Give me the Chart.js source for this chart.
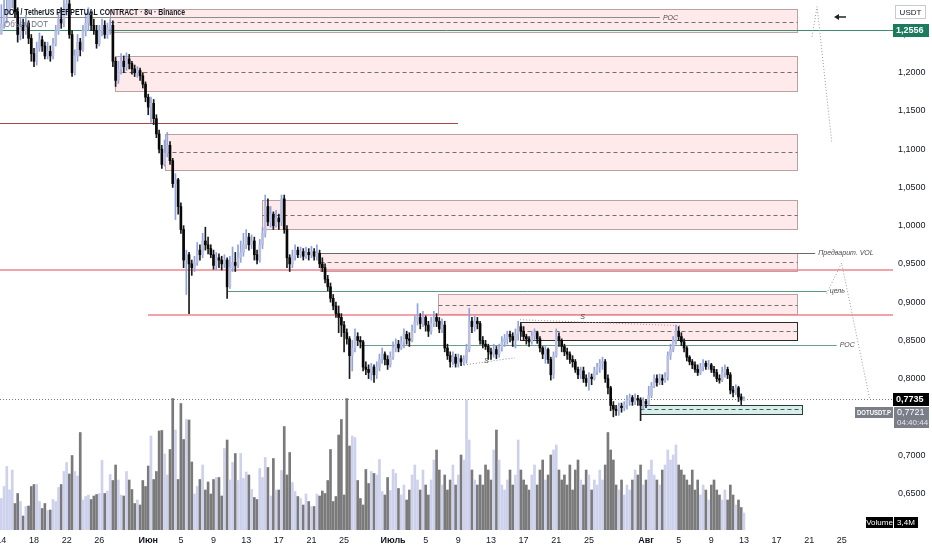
<!DOCTYPE html>
<html><head><meta charset="utf-8">
<script src="https://cdn.jsdelivr.net/npm/chart.js@4.4.0/dist/chart.umd.min.js"></script>
<style>html,body{margin:0;padding:0;background:#fff;overflow:hidden}canvas{display:block}</style>
</head><body>
<canvas id="c" width="932" height="550"></canvas>
<script>
// ---------- DATA (8h candles, DOT/USDT perpetual, Binance) ----------
const firstOpen = 1.250;
const closes = [
1.263,1.276,1.282,1.295,1.300,1.280,1.250,1.262,1.255,1.265,
1.245,1.225,1.215,1.232,1.243,1.235,1.222,1.228,1.222,1.238,
1.255,1.270,1.265,1.280,1.290,1.250,1.200,1.222,1.240,1.230,
1.255,1.265,1.275,1.262,1.255,1.238,1.255,1.262,1.250,1.258,
1.262,1.215,1.190,1.205,1.215,1.208,1.218,1.212,1.205,1.200,
1.203,1.196,1.185,1.168,1.155,1.160,1.140,1.120,1.100,1.080,
1.095,1.105,1.085,1.055,1.060,1.025,0.995,0.955,0.962,0.950,
0.945,0.952,0.968,0.962,0.980,0.975,0.970,0.962,0.948,0.958,
0.955,0.950,0.955,0.920,0.945,0.952,0.948,0.958,0.965,0.975,
0.985,0.975,0.980,0.962,0.955,0.975,0.990,1.025,1.005,1.015,
1.000,1.010,1.005,1.035,0.995,0.958,0.950,0.960,0.968,0.962,
0.966,0.960,0.965,0.962,0.966,0.960,0.964,0.950,0.945,0.930,
0.920,0.905,0.895,0.885,0.880,0.870,0.860,0.852,0.830,0.840,
0.855,0.850,0.848,0.815,0.812,0.808,0.815,0.805,0.815,0.825,
0.832,0.825,0.818,0.828,0.840,0.845,0.840,0.848,0.858,0.852,
0.850,0.862,0.875,0.880,0.872,0.880,0.870,0.862,0.872,0.880,
0.875,0.865,0.870,0.840,0.830,0.822,0.828,0.820,0.826,0.822,
0.825,0.838,0.875,0.868,0.875,0.872,0.850,0.845,0.842,0.835,
0.832,0.838,0.832,0.840,0.848,0.852,0.858,0.855,0.850,0.858,
0.868,0.862,0.855,0.852,0.848,0.856,0.860,0.852,0.840,0.832,
0.838,0.825,0.805,0.830,0.855,0.850,0.842,0.835,0.832,0.825,
0.822,0.812,0.805,0.810,0.800,0.795,0.802,0.800,0.810,0.815,
0.820,0.822,0.800,0.788,0.765,0.760,0.758,0.764,0.762,0.766,
0.772,0.775,0.770,0.774,0.772,0.765,0.770,0.767,0.778,0.790,
0.800,0.795,0.800,0.798,0.802,0.830,0.838,0.850,0.862,0.855,
0.848,0.840,0.828,0.822,0.818,0.812,0.808,0.815,0.820,0.816,
0.818,0.812,0.808,0.800,0.798,0.808,0.812,0.805,0.785,0.782,
0.788,0.776,0.772,0.7735];
const highs = [
1.289,1.295,1.300,1.310,1.315,1.310,1.285,1.272,1.270,1.275,
1.268,1.250,1.232,1.240,1.252,1.248,1.240,1.240,1.235,1.245,
1.262,1.278,1.285,1.295,1.310,1.300,1.255,1.230,1.250,1.245,
1.262,1.278,1.285,1.280,1.270,1.262,1.262,1.270,1.268,1.265,
1.270,1.268,1.220,1.215,1.225,1.222,1.226,1.224,1.215,1.210,
1.208,1.206,1.200,1.188,1.172,1.168,1.165,1.145,1.125,1.105,
1.112,1.122,1.110,1.088,1.068,1.062,1.030,1.000,0.968,0.965,
0.955,0.960,0.978,0.975,0.990,0.998,0.985,0.975,0.968,0.965,
0.963,0.960,0.962,0.958,0.960,0.972,0.965,0.975,0.980,0.990,
0.995,0.990,0.988,0.985,0.968,0.982,0.998,1.040,1.035,1.025,
1.018,1.020,1.015,1.040,1.040,1.000,0.962,0.968,0.975,0.972,
0.972,0.970,0.972,0.970,0.973,0.970,0.975,0.968,0.958,0.950,
0.935,0.925,0.910,0.900,0.895,0.885,0.875,0.865,0.855,0.850,
0.865,0.860,0.855,0.850,0.822,0.818,0.820,0.818,0.822,0.832,
0.840,0.835,0.830,0.835,0.848,0.852,0.850,0.855,0.865,0.862,
0.860,0.870,0.882,0.898,0.885,0.888,0.882,0.875,0.880,0.888,
0.885,0.880,0.878,0.875,0.845,0.835,0.835,0.832,0.832,0.830,
0.830,0.845,0.892,0.880,0.882,0.880,0.875,0.855,0.850,0.845,
0.840,0.845,0.842,0.845,0.855,0.858,0.862,0.862,0.860,0.865,
0.875,0.872,0.868,0.858,0.855,0.862,0.865,0.862,0.855,0.842,
0.842,0.840,0.828,0.835,0.865,0.860,0.852,0.845,0.840,0.835,
0.830,0.825,0.815,0.815,0.815,0.805,0.808,0.806,0.815,0.820,
0.825,0.828,0.825,0.805,0.790,0.770,0.765,0.768,0.768,0.770,
0.778,0.780,0.778,0.780,0.778,0.775,0.775,0.773,0.790,0.795,
0.805,0.805,0.806,0.805,0.808,0.835,0.845,0.855,0.870,0.868,
0.860,0.852,0.842,0.830,0.825,0.822,0.818,0.820,0.825,0.823,
0.824,0.820,0.816,0.812,0.805,0.815,0.818,0.815,0.808,0.790,
0.792,0.790,0.780,0.776];
const lows = [
1.256,1.258,1.265,1.276,1.285,1.272,1.240,1.243,1.245,1.250,
1.238,1.215,1.208,1.210,1.228,1.228,1.218,1.218,1.215,1.218,
1.235,1.250,1.258,1.260,1.275,1.245,1.195,1.197,1.215,1.222,
1.228,1.248,1.255,1.255,1.250,1.232,1.235,1.248,1.245,1.245,
1.250,1.208,1.182,1.186,1.198,1.200,1.203,1.205,1.198,1.195,
1.194,1.190,1.180,1.162,1.145,1.135,1.132,1.115,1.095,1.075,
1.078,1.090,1.080,1.050,1.008,1.015,0.990,0.945,0.910,0.885,
0.935,0.940,0.948,0.955,0.958,0.968,0.963,0.958,0.943,0.942,
0.945,0.942,0.945,0.905,0.918,0.940,0.940,0.945,0.952,0.960,
0.970,0.968,0.970,0.955,0.950,0.952,0.970,0.985,1.000,0.998,
0.995,0.998,0.995,1.000,0.990,0.945,0.940,0.945,0.955,0.958,
0.958,0.955,0.957,0.955,0.958,0.955,0.955,0.945,0.940,0.925,
0.915,0.900,0.890,0.880,0.860,0.855,0.835,0.845,0.800,0.810,
0.835,0.843,0.840,0.810,0.805,0.800,0.798,0.795,0.800,0.810,
0.820,0.818,0.812,0.815,0.825,0.835,0.835,0.838,0.840,0.845,
0.842,0.848,0.860,0.870,0.865,0.868,0.862,0.855,0.858,0.868,
0.868,0.860,0.860,0.835,0.825,0.815,0.818,0.815,0.815,0.817,
0.818,0.820,0.835,0.860,0.862,0.865,0.845,0.840,0.838,0.825,
0.825,0.828,0.826,0.828,0.836,0.842,0.845,0.848,0.842,0.840,
0.850,0.855,0.850,0.845,0.842,0.845,0.850,0.846,0.835,0.826,
0.820,0.820,0.798,0.800,0.828,0.842,0.835,0.830,0.825,0.820,
0.815,0.808,0.800,0.800,0.795,0.790,0.785,0.792,0.798,0.805,
0.808,0.812,0.795,0.780,0.758,0.750,0.752,0.752,0.756,0.758,
0.760,0.765,0.765,0.766,0.765,0.745,0.760,0.762,0.765,0.775,
0.788,0.790,0.792,0.792,0.795,0.798,0.825,0.835,0.845,0.850,
0.843,0.835,0.823,0.818,0.813,0.808,0.804,0.805,0.810,0.812,
0.812,0.808,0.803,0.796,0.794,0.796,0.802,0.800,0.780,0.776,
0.779,0.770,0.766,0.771];
const volumes = [ // millions DOT
6.3,8.7,12.7,8,12,5.3,7.3,5.7,2.8,4.7,
4.8,8.7,9.1,9.1,5.7,4.3,5.3,3.9,4,6.1,
5.7,8.5,9.1,11.7,13.5,11.2,14.9,11.7,10.8,19.5,
6,6.7,7,6.1,6.8,7.1,7.3,13.9,7.3,7.8,
11.1,9.9,13,10,7,6.8,11.7,10,8.1,5.3,
6,5,9.9,8.7,12.8,18.8,10.1,11.7,19.8,19.9,
15.2,11,16.1,26.3,20,10.1,25.3,18.1,22.1,22,
13.6,7.2,8.7,10.1,13,8,9.6,7.2,10.1,10.5,
10.5,6.8,16.3,18,10,13.5,15.3,9.9,15.3,10.3,
11.6,11,8.1,6.5,6.1,12.3,10.5,14.5,12.5,6.8,
14.3,8,8,11.9,20.7,11,15.5,9.5,7.7,6.7,
6.3,5,7.2,5.7,4.7,4.7,7.2,6.8,7.8,7.3,
9.9,16.1,5.7,6.7,19,22.1,7,26.3,16.8,18.8,
18.5,9.9,6.3,5,12.1,9.3,11.7,11.3,11,14.1,
7.7,7,10.5,7.9,12.1,11.3,8.3,
7,9,6,8,11,13,10,8,12,9,7,10,14,16,
12,9,11,8,10,13,9,11,15,14,26,18,12,10,9,
11,9,13,12,10,16,20,14,9,8,10,12,9,11,18,
12,10,9,8,11,13,9,12,14,10,11,15,16,17,12,
10,11,9,13,8,12,14,10,9,12,11,8,10,9,12,
10,13,19.5,16,14,9,8,10,7,9,8,10,12,11,13,
9,10,12,14,11,10,9,12,13,16,14,15,17,13,12,
11,10,9,12,8,10,7,9,8,6,9,10,8,7,6,
8,6,9,7,5,6,4.5,3.4];
// time axis: slot = 8h candle index from 14 May 00:00
const dateTickSlots  = [0,12,24,36,54,66,78,90,102,114,126,144,156,168,180,192,204,216,237,249,261,273,285,297,309];
const dateTickLabels = ['14','18','22','26','Июн','5','9','13','17','21','25','Июль','5','9','13','17','21','25','Авг','5','9','13','17','21','25'];
const monthTickSlots = [54,144,237];
const priceTicks = [0.65,0.70,0.75,0.80,0.85,0.90,0.95,1.00,1.05,1.10,1.15,1.20,1.25];
// supply zones (pink boxes)
const zoneStartSlots = [40,41.8,60.2,95.8,117.1,160.5,190.7];
const zoneEndSlot = 292.5;
const zoneTops    = [1.2828,1.2222,1.1198,1.0339,0.9646,0.9106,0.8740];
const zoneBottoms = [1.2530,1.1765,1.0732,0.9960,0.9411,0.8842,0.8499];
const zoneMids    = [1.2667,1.2004,1.0967,1.0143,0.9528,0.8962,0.8626];
// demand zone (green box)
const demandZone = {from:234.8, to:294.2, top:0.7658, bottom:0.7541, mid:0.7600};
// horizontal levels
const levelPrices    = [1.2728,1.2556,1.1346,0.9646,0.9414,0.9149,0.8832,0.8443];
const levelFromSlots = [-1,-1,-1,117.1,-1,83.3,53.9,131.9];
const levelToSlots   = [242.1,340,167.9,299.2,340,303.4,340,307.1];
const levelNames     = ['POC','','','Предварит. VOL','','цель','','POC'];
const lastPrice = 0.7735, markPrice = 0.7721, countdown = '04:40:44';
// projection / pattern paths
const projA = {slots:[298,299.9,305.3], prices:[1.2471,1.2863,1.1085]};
const projB = {slots:[303.4,308.9,319.3], prices:[0.9110,0.9512,0.7722]};
const sLine1 = {slots:[165.7,188.8], prices:[0.8155,0.8273]};
const sLine2 = {slots:[190.7,249.5], prices:[0.8770,0.8692]};
const sMarks = {slots:[177.4,212.8], prices:[0.8225,0.8800]};

// ---------- derived ----------
const opens = closes.map((c,i)=> i===0 ? firstOpen : closes[i-1]);
const isUp = closes.map((c,i)=> c >= opens[i]);
const FONT = "'Liberation Sans', Arial, sans-serif";
const fmt = v => v.toFixed(4).replace('.', ',');

function fitText(ctx, txt, x, y, maxW){
  const w = ctx.measureText(txt).width;
  ctx.save(); ctx.translate(x,y); if (w>maxW) ctx.scale(maxW/w,1); ctx.fillText(txt,0,0); ctx.restore();
}

const overlay = {
  id:'overlay',
  beforeDatasetsDraw(chart){
    const {ctx, chartArea:a, scales:{x,y}} = chart;
    const X = v => x.getPixelForValue(v), Y = v => y.getPixelForValue(v);
    const R = v => Math.round(v)+0.5;
    ctx.save();
    ctx.beginPath(); ctx.rect(a.left,a.top,a.right-a.left,a.bottom-a.top); ctx.clip();
    zoneTops.forEach((t,k)=>{
      const x0=R(X(zoneStartSlots[k])), x1=R(X(zoneEndSlot)), y0=R(Y(t)), y1=R(Y(zoneBottoms[k]));
      ctx.fillStyle='rgba(242,54,69,0.11)'; ctx.fillRect(x0,y0,x1-x0,y1-y0);
      ctx.lineWidth=1; ctx.setLineDash([]);
      ctx.strokeStyle = k===6 ? '#2b2b2b' : 'rgba(160,125,130,0.7)';
      ctx.strokeRect(x0,y0,x1-x0,y1-y0);
      const ym=R(Y(zoneMids[k]));
      ctx.strokeStyle='#707070'; ctx.setLineDash([4,3]);
      ctx.beginPath(); ctx.moveTo(x0,ym); ctx.lineTo(x1,ym); ctx.stroke();
      ctx.setLineDash([]);
    });
    {
      const d=demandZone, x0=R(X(d.from)), x1=R(X(d.to)), y0=R(Y(d.top)), y1=R(Y(d.bottom));
      ctx.fillStyle='rgba(8,153,129,0.16)'; ctx.fillRect(x0,y0,x1-x0,y1-y0);
      ctx.strokeStyle='#2d3b38'; ctx.lineWidth=1; ctx.strokeRect(x0,y0,x1-x0,y1-y0);
      const ym=R(Y(d.mid)); ctx.strokeStyle='#555'; ctx.setLineDash([4,3]);
      ctx.beginPath(); ctx.moveTo(x0,ym); ctx.lineTo(x1,ym); ctx.stroke(); ctx.setLineDash([]);
    }
    const lvColors=['#8c8c8c','#3d8c72','#a84848','#6a6a6a','#f0838e','#5a9a84','#f0838e','#6b9d8e'];
    const lvWidths=[1,1,1,1,1.5,1,1.5,1];
    levelPrices.forEach((p,k)=>{
      const yy = lvWidths[k]===1 ? R(Y(p)) : Math.round(Y(p));
      ctx.strokeStyle=lvColors[k]; ctx.lineWidth=lvWidths[k];
      ctx.beginPath(); ctx.moveTo(X(levelFromSlots[k]),yy); ctx.lineTo(X(levelToSlots[k]),yy); ctx.stroke();
    });
    ctx.strokeStyle='#7a7a7a'; ctx.lineWidth=1; ctx.setLineDash([1,2]);
    ctx.beginPath(); ctx.moveTo(a.left,R(Y(lastPrice))); ctx.lineTo(a.right,R(Y(lastPrice))); ctx.stroke();
    const path=(o,col)=>{ctx.strokeStyle=col; ctx.beginPath();
      o.slots.forEach((s,i)=>{const px=X(s),py=Y(o.prices[i]); i?ctx.lineTo(px,py):ctx.moveTo(px,py);}); ctx.stroke();};
    path(projA,'#9a9a9a'); path(projB,'#9a9a9a'); path(sLine1,'#8a8a8a'); path(sLine2,'#d08a90');
    ctx.setLineDash([]);
    ctx.restore();
  },
  afterDraw(chart){
    const {ctx, scales:{x,y}} = chart;
    const X = v => x.getPixelForValue(v), Y = v => y.getPixelForValue(v);
    ctx.save();
    ctx.font="italic 7px "+FONT; ctx.fillStyle='#4a4a4a'; ctx.textBaseline='middle'; ctx.textAlign='left';
    levelNames.forEach((n,k)=>{ if(n) ctx.fillText(n, X(levelToSlots[k])+3, Y(levelPrices[k])+0.5); });
    ctx.fillText('S', X(sMarks.slots[0]), Y(sMarks.prices[0]));
    ctx.fillText('S', X(sMarks.slots[1]), Y(sMarks.prices[1]));
    // arrow
    ctx.strokeStyle='#222'; ctx.fillStyle='#222'; ctx.lineWidth=1.5;
    ctx.beginPath(); ctx.moveTo(846,17); ctx.lineTo(837,17); ctx.stroke();
    ctx.beginPath(); ctx.moveTo(834,17); ctx.lineTo(839,14); ctx.lineTo(839,20); ctx.closePath(); ctx.fill();
    // title
    ctx.textBaseline='alphabetic';
    ctx.font="bold 9.5px "+FONT; ctx.fillStyle='#131722';
    const title='DOT / TetherUS PERPETUAL CONTRACT · 8ч · Binance';
    let w=ctx.measureText(title).width; ctx.save(); ctx.translate(4,14.5); ctx.scale(181/w,1); ctx.fillText(title,0,0); ctx.restore();
    ctx.font="9px "+FONT; ctx.fillStyle='#6d7080';
    w=ctx.measureText('Объём DOT').width; ctx.save(); ctx.translate(4,26.5); ctx.scale(44/w,1); ctx.fillText('Объём DOT',0,0); ctx.restore();
    // price-scale labels
    ctx.textBaseline='middle';
    const box=(x0,y0,bw,bh,bg)=>{ctx.fillStyle=bg; ctx.fillRect(x0,y0,bw,bh);};
    ctx.fillStyle='#fff'; ctx.fillRect(895.5,5.5,30,13); ctx.strokeStyle='#c9cbd3'; ctx.lineWidth=1; ctx.strokeRect(895.5,5.5,30,13);
    ctx.fillStyle='#131722'; ctx.font="8px "+FONT; ctx.textAlign='center'; ctx.fillText('USDT',910.5,12.5);
    let yy=Math.round(Y(levelPrices[1]));
    box(893,yy-6,36,13,'#1b7b5c'); ctx.fillStyle='#fff'; ctx.font="bold 9px "+FONT; ctx.textAlign='left';
    ctx.fillText(fmt(levelPrices[1]),896,yy+0.5);
    yy=Math.round(Y(lastPrice));
    box(893,yy-6,36,13,'#000'); ctx.fillStyle='#fff'; ctx.fillText(fmt(lastPrice),896,yy+0.5);
    box(894,yy+8,35,21,'#7b7e88');
    ctx.fillStyle='#fff'; ctx.font="9px "+FONT; ctx.fillText(fmt(markPrice),897,yy+13.5);
    ctx.fillStyle='#e6e7ea'; ctx.font="8px "+FONT; ctx.fillText(countdown,897,yy+23.5);
    box(855,yy+8,38,11,'#7b7e88');
    ctx.fillStyle='#fff'; ctx.font="bold 7.5px "+FONT; ctx.textAlign='left';
    fitText(ctx,'DOTUSDT.P',857,yy+13.5,34);
    // volume label
    box(866,517,27,11,'#000'); box(894,517,24,11,'#000');
    ctx.fillStyle='#fff'; ctx.font="8px "+FONT; ctx.textAlign='center';
    ctx.fillText('Volume',879.5,522.5);
    ctx.fillText(volumes[volumes.length-1].toFixed(1).replace('.',',')+'M',906,522.5);
    ctx.restore();
  }
};

new Chart(document.getElementById('c'), {
  type:'bar',
  data:{ datasets:[
    { label:'Объём DOT', yAxisID:'yv', data: volumes.map((v,i)=>({x:i,y:v})),
      backgroundColor: isUp.map(u=>u?'#cdd1ec':'#7a7a7a'), barThickness:2, grouped:false, order:3 },
    { label:'wick', yAxisID:'y', data: lows.map((l,i)=>({x:i,y:[l,highs[i]]})),
      backgroundColor: isUp.map(u=>u?'#8fa3e0':'#1a1a1a'), barThickness:1, grouped:false, order:2 },
    { label:'DOTUSDT.P', yAxisID:'y', data: closes.map((c,i)=>({x:i,y:[opens[i],c]})),
      backgroundColor: isUp.map(u=>u?'#b9bfdc':'#080808'), barThickness:2, minBarLength:1, grouped:false, order:1 }
  ]},
  options:{
    responsive:false, animation:false,
    layout:{padding:0},
    plugins:{legend:{display:false}, tooltip:{enabled:false}},
    scales:{
      x:{ type:'linear', min:-0.5, max:327.8, offset:false,
          grid:{display:false, drawTicks:false}, border:{display:false},
          afterBuildTicks:s=>{ s.ticks = dateTickSlots.map(v=>({value:v})); },
          afterFit:s=>{ s.height=20; s.paddingLeft=0; s.paddingRight=0; },
          ticks:{ autoSkip:false, maxRotation:0, minRotation:0, padding:5, color:'#131722',
            font:c=>({family:FONT, size:9, weight: (c.tick && monthTickSlots.includes(c.tick.value)) ? 'bold':'normal'}),
            callback:v=>{ const k=dateTickSlots.indexOf(v); return k>=0 ? dateTickLabels[k] : ''; } } },
      y:{ type:'linear', position:'right', min:0.6020, max:1.2951,
          grid:{display:false, drawTicks:false}, border:{display:false},
          afterBuildTicks:s=>{ s.ticks = priceTicks.map(v=>({value:v})); },
          afterFit:s=>{ s.width=39; s.paddingTop=0; s.paddingBottom=0; },
          ticks:{ padding:5, color:'#131722', font:{family:FONT, size:9}, callback:v=>fmt(v) } },
      yv:{ type:'linear', display:false, min:0, max:106 }
    }
  },
  plugins:[overlay]
});
</script>
</body></html>
